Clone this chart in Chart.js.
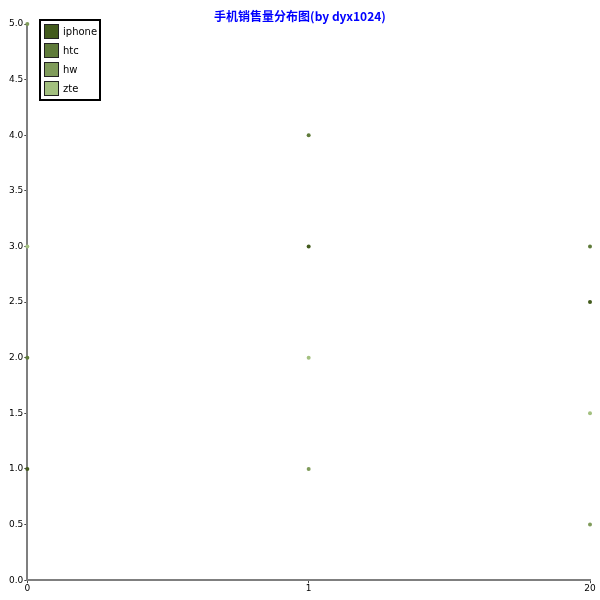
<!DOCTYPE html>
<html>
<head>
<meta charset="utf-8">
<script src="https://cdn.jsdelivr.net/npm/chart.js@4/dist/chart.umd.min.js"></script>
<style>
html,body{margin:0;padding:0;background:#fff;}
#wrap{position:relative;width:600px;height:600px;}
</style>
</head>
<body>
<div id="wrap"><canvas id="c" width="600" height="600"></canvas></div>
<script>
const title = '手机销售量分布图(by dyx1024)';
const categories = ['0', '1', '20'];
const seriesNames = ['iphone', 'htc', 'hw', 'zte'];
const iphone = [1, 3, 2.5];
const htc = [2, 4, 3];
const hw = [5, 1, 0.5];
const zte = [3, 2, 1.5];
const seriesColors = ['#435b1d', '#5f7b3a', '#7f9b5a', '#a3c07f'];
const yMin = 0, yMax = 5, yStep = 0.5;

const seriesValues = [iphone, htc, hw, zte];

const legendPlugin = {
  id: 'boxLegend',
  afterDraw(chart) {
    const ctx = chart.ctx;
    const x0 = 40, y0 = 20, w = 60, h = 80;
    ctx.save();
    ctx.fillStyle = '#fff';
    ctx.fillRect(x0, y0, w, h);
    ctx.lineWidth = 2;
    ctx.strokeStyle = '#000';
    ctx.strokeRect(x0, y0, w, h);
    ctx.font = '10px "DejaVu Sans"';
    ctx.textBaseline = 'middle';
    chart.data.datasets.forEach((ds, i) => {
      const by = y0 + 4 + i * 19;
      ctx.fillStyle = ds.backgroundColor;
      ctx.fillRect(x0 + 4, by, 15, 15);
      ctx.lineWidth = 1;
      ctx.strokeStyle = '#222';
      ctx.strokeRect(x0 + 4.5, by + 0.5, 14, 14);
      ctx.fillStyle = '#000';
      ctx.fillText(ds.label, x0 + 23, by + 8);
    });
    ctx.restore();
  }
};

const titlePlugin = {
  id: 'topTitle',
  afterDraw(chart) {
    const ctx = chart.ctx;
    ctx.save();
    ctx.font = 'bold 12px "Noto Sans CJK SC"';
    ctx.fillStyle = '#0000ff';
    ctx.textAlign = 'center';
    ctx.textBaseline = 'middle';
    ctx.fillText(title, 300, 16);
    ctx.restore();
  }
};

new Chart(document.getElementById('c'), {
  type: 'line',
  data: {
    labels: categories,
    datasets: seriesNames.map((n, i) => ({
      label: n,
      data: seriesValues[i],
      showLine: false,
      backgroundColor: seriesColors[i],
      borderColor: seriesColors[i],
      pointRadius: 2,
      pointBorderWidth: 0,
      pointHoverRadius: 2
    }))
  },
  options: {
    responsive: false,
    animation: false,
    clip: false,
    layout: { padding: { top: 24, right: 10, left: 8, bottom: 6 } },
    plugins: { legend: { display: false }, title: { display: false }, tooltip: { enabled: false } },
    scales: {
      x: {
        type: 'category',
        offset: false,
        grid: { display: true, drawOnChartArea: false, drawTicks: true, tickLength: 3, color: '#444' },
        border: { display: true, color: '#7f7f7f', width: 2 },
        ticks: { color: '#000', font: { family: 'DejaVu Sans', size: 9 }, padding: 0, maxRotation: 0, autoSkip: false }
      },
      y: {
        min: yMin, max: yMax,
        grid: { display: true, drawOnChartArea: false, drawTicks: true, tickLength: 3, color: '#444' },
        border: { display: true, color: '#7f7f7f', width: 2 },
        ticks: { stepSize: yStep, color: '#000', font: { family: 'DejaVu Sans', size: 9 }, padding: 1,
          callback: v => Number(v).toFixed(1) }
      }
    }
  },
  plugins: [legendPlugin, titlePlugin]
});
</script>
</body>
</html>
